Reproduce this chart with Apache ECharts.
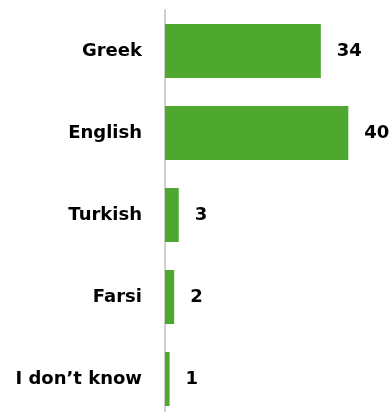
<!DOCTYPE html>
<html>
<head>
<meta charset="utf-8">
<script src="https://cdn.jsdelivr.net/npm/echarts@6/dist/echarts.min.js"></script>
<style>
  html, body { margin: 0; padding: 0; background: #fff; overflow: hidden; }
  #chart { width: 390px; height: 421px; }
</style>
</head>
<body>
<div id="chart"></div>
<script>
// Languages and number of responses
const categories = ['Greek', 'English', 'Turkish', 'Farsi', 'I don\u2019t know'];
const counts = [34, 40, 3, 2, 1];

const chart = echarts.init(document.getElementById('chart'), null, { renderer: 'canvas' });

const font = '"DejaVu Sans", "Liberation Sans", Arial, sans-serif';

chart.setOption({
  animation: false,
  grid: { left: 165, top: 10, width: 220, height: 410, containLabel: false },
  xAxis: {
    type: 'value',
    min: 0,
    max: 48,
    show: false
  },
  yAxis: {
    type: 'category',
    data: categories,
    inverse: true,
    axisLine: { show: true, lineStyle: { color: '#bfbfbf', width: 1.5 } },
    axisTick: { show: false },
    axisLabel: {
      margin: 23,
      color: '#000',
      fontFamily: font,
      fontWeight: 'bold',
      fontSize: 18
    }
  },
  series: [{
    type: 'bar',
    data: counts,
    barWidth: 54,
    itemStyle: { color: '#4EA72E' },
    label: {
      show: true,
      position: 'right',
      distance: 16,
      color: '#000',
      fontFamily: font,
      fontWeight: 'bold',
      fontSize: 18
    }
  }]
});
</script>
</body>
</html>
